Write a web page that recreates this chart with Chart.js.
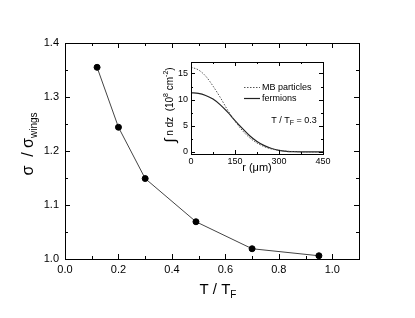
<!DOCTYPE html>
<html>
<head>
<meta charset="utf-8">
<script src="https://cdn.jsdelivr.net/npm/chart.js@4/dist/chart.umd.min.js"></script>
<style>
  body { margin: 0; background: #fff; }
  #wrap { position: relative; width: 415px; height: 318px; }
  #mainChart { position: absolute; left: 0; top: 0; }
  #insetChart { position: absolute; left: 160px; top: 50px; }
</style>
</head>
<body>
<div id="wrap">
  <canvas id="mainChart" width="415" height="318"></canvas>
  <canvas id="insetChart" width="175" height="130"></canvas>
</div>
<script>
// main plot: width ratio vs reduced temperature
const tRatio = [0.12, 0.20, 0.30, 0.49, 0.70, 0.95];
const widthRatio = [1.355, 1.244, 1.149, 1.069, 1.019, 1.006];

// inset: column density profiles (10^8 cm^-2) vs r (um)
const insetR = [0, 25, 50, 75, 100, 125, 150, 175, 200, 225, 250, 275, 300, 325, 350, 375, 400, 425, 450];
const mbDensity = [16.2, 15.7, 14.5, 12.6, 10.4, 8.0, 5.9, 4.1, 2.7, 1.7, 1.0, 0.55, 0.3, 0.15, 0.07, 0.03, 0.01, 0, 0];
const fermiDensity = [11.3, 11.2, 10.8, 10.1, 9.0, 7.6, 6.0, 4.5, 3.1, 2.0, 1.2, 0.65, 0.3, 0.12, 0.05, 0.02, 0.01, 0, 0];

const FONT = "'Liberation Sans', Arial, Helvetica, sans-serif";

function isMajor(v, step) {
  const q = v / step;
  return Math.abs(q - Math.round(q)) < 1e-6;
}

// draw text made of pieces (for sub/superscripts), centred on x
function drawRich(ctx, segs, x, y, rotate) {
  ctx.save();
  ctx.translate(x, y);
  if (rotate) ctx.rotate(-Math.PI / 2);
  ctx.textBaseline = 'alphabetic';
  ctx.textAlign = 'left';
  let w = 0;
  segs.forEach(s => { ctx.font = s.size + 'px ' + FONT; w += ctx.measureText(s.t).width; });
  let cx = -w / 2;
  segs.forEach(s => {
    ctx.font = s.size + 'px ' + FONT;
    ctx.fillText(s.t, cx, s.dy || 0);
    cx += ctx.measureText(s.t).width;
  });
  ctx.restore();
}

// box frame with inward ticks on all four sides
const frameTicks = {
  id: 'frameTicks',
  afterDraw(chart, args, opts) {
    const { ctx, chartArea: a, scales: { x, y } } = chart;
    ctx.save();
    ctx.strokeStyle = '#000';
    ctx.lineWidth = 1;
    ctx.strokeRect(Math.round(a.left) + 0.5, Math.round(a.top) + 0.5,
      Math.round(a.right - a.left), Math.round(a.bottom - a.top));
    ctx.beginPath();
    x.ticks.forEach(t => {
      const px = Math.round(x.getPixelForValue(t.value)) + 0.5;
      const len = isMajor(t.value, opts.xMajor) ? opts.major : opts.minor;
      ctx.moveTo(px, a.bottom); ctx.lineTo(px, a.bottom - len);
      ctx.moveTo(px, a.top); ctx.lineTo(px, a.top + len);
    });
    y.ticks.forEach(t => {
      const py = Math.round(y.getPixelForValue(t.value)) + 0.5;
      const len = isMajor(t.value, opts.yMajor) ? opts.major : opts.minor;
      ctx.moveTo(a.left, py); ctx.lineTo(a.left + len, py);
      ctx.moveTo(a.right, py); ctx.lineTo(a.right - len, py);
    });
    ctx.stroke();
    ctx.fillStyle = '#000';
    (opts.texts || []).forEach(tx => drawRich(ctx, tx.segs, tx.x, tx.y, tx.rotate));
    (opts.keys || []).forEach(k => {
      ctx.beginPath();
      ctx.setLineDash(k.dash);
      ctx.lineWidth = k.width;
      ctx.strokeStyle = k.color;
      ctx.moveTo(k.x0, k.y + 0.5); ctx.lineTo(k.x1, k.y + 0.5);
      ctx.stroke();
      ctx.setLineDash([]);
      ctx.font = '9px ' + FONT;
      ctx.textBaseline = 'middle';
      ctx.fillText(k.label, k.x1 + 2, k.y + 1);
    });
    ctx.restore();
  }
};

new Chart(document.getElementById('mainChart'), {
  type: 'scatter',
  data: {
    datasets: [{
      data: tRatio.map((t, i) => ({ x: t, y: widthRatio[i] })),
      showLine: true,
      borderColor: '#444',
      borderWidth: 1,
      pointRadius: 3,
      pointBackgroundColor: '#000',
      pointBorderColor: '#000'
    }]
  },
  options: {
    responsive: false,
    animation: false,
    layout: { padding: { left: 0, top: 43, right: 56, bottom: 0 } },
    plugins: {
      legend: { display: false },
      tooltip: { enabled: false },
      frameTicks: {
        xMajor: 0.2, yMajor: 0.1, major: 5, minor: 3,
        texts: [
          { segs: [{ t: 'T / T', size: 15 }, { t: 'F', size: 10, dy: 4 }], x: 218, y: 294 },
          { segs: [{ t: 'σ  / σ', size: 16 }, { t: 'wings', size: 10, dy: 4 }], x: 33, y: 144, rotate: true }
        ]
      }
    },
    scales: {
      x: {
        type: 'linear', min: 0, max: 1.1,
        afterFit: s => { s.height = 59; },
        grid: { display: false, drawTicks: false },
        border: { display: false },
        ticks: {
          stepSize: 0.1, autoSkip: false, maxRotation: 0, padding: 4,
          color: '#000', font: { family: FONT, size: 11 },
          callback: v => isMajor(v, 0.2) ? v.toFixed(1) : ''
        }
      },
      y: {
        type: 'linear', min: 1.0, max: 1.4,
        afterFit: s => { s.width = 65; },
        grid: { display: false, drawTicks: false },
        border: { display: false },
        ticks: {
          stepSize: 0.05, autoSkip: false, padding: 6,
          color: '#000', font: { family: FONT, size: 11 },
          callback: v => isMajor(v, 0.1) ? v.toFixed(1) : ''
        }
      }
    }
  },
  plugins: [frameTicks]
});

new Chart(document.getElementById('insetChart'), {
  type: 'line',
  data: {
    labels: insetR,
    datasets: [
      {
        data: insetR.map((r, i) => ({ x: r, y: mbDensity[i] })),
        borderColor: '#555', borderWidth: 1, borderDash: [1.5, 1.5],
        pointRadius: 0, cubicInterpolationMode: 'monotone'
      },
      {
        data: insetR.map((r, i) => ({ x: r, y: fermiDensity[i] })),
        borderColor: '#222', borderWidth: 1.2,
        pointRadius: 0, cubicInterpolationMode: 'monotone'
      }
    ]
  },
  options: {
    responsive: false,
    animation: false,
    layout: { padding: { left: 0, top: 12, right: 12, bottom: 0 } },
    plugins: {
      legend: { display: false },
      tooltip: { enabled: false },
      frameTicks: {
        xMajor: 150, yMajor: 5, major: 4, minor: 2,
        texts: [
          { segs: [{ t: 'r (μm)', size: 11 }], x: 97, y: 121 },
          { segs: [{ t: 'T / T', size: 9 }, { t: 'F', size: 7, dy: 2 }, { t: ' = 0.3', size: 9 }], x: 134, y: 73 },
          { segs: [{ t: '∫', size: 15, dy: 2 }, { t: ' n dz  (10', size: 10 }, { t: '8', size: 7, dy: -5 },
                   { t: ' cm', size: 10 }, { t: '-2', size: 7, dy: -5 }, { t: ')', size: 10 }],
            x: 13, y: 55, rotate: true }
        ],
        keys: [
          { x0: 84, x1: 100, y: 37, dash: [1.5, 1.5], width: 1, color: '#555', label: 'MB particles' },
          { x0: 84, x1: 100, y: 48, dash: [], width: 1.2, color: '#222', label: 'fermions' }
        ]
      }
    },
    scales: {
      x: {
        type: 'linear', min: 0, max: 450,
        afterFit: s => { s.height = 26; },
        grid: { display: false, drawTicks: false },
        border: { display: false },
        ticks: {
          stepSize: 75, autoSkip: false, maxRotation: 0, padding: 2,
          color: '#000', font: { family: FONT, size: 9 },
          callback: v => isMajor(v, 150) ? String(v) : ''
        }
      },
      y: {
        type: 'linear', min: -0.4, max: 17.2,
        afterFit: s => { s.width = 31; },
        grid: { display: false, drawTicks: false },
        border: { display: false },
        ticks: {
          stepSize: 2.5, autoSkip: false, includeBounds: false, padding: 3,
          color: '#000', font: { family: FONT, size: 9 },
          callback: v => isMajor(v, 5) ? String(v) : ''
        }
      }
    }
  },
  plugins: [frameTicks]
});
</script>
</body>
</html>
